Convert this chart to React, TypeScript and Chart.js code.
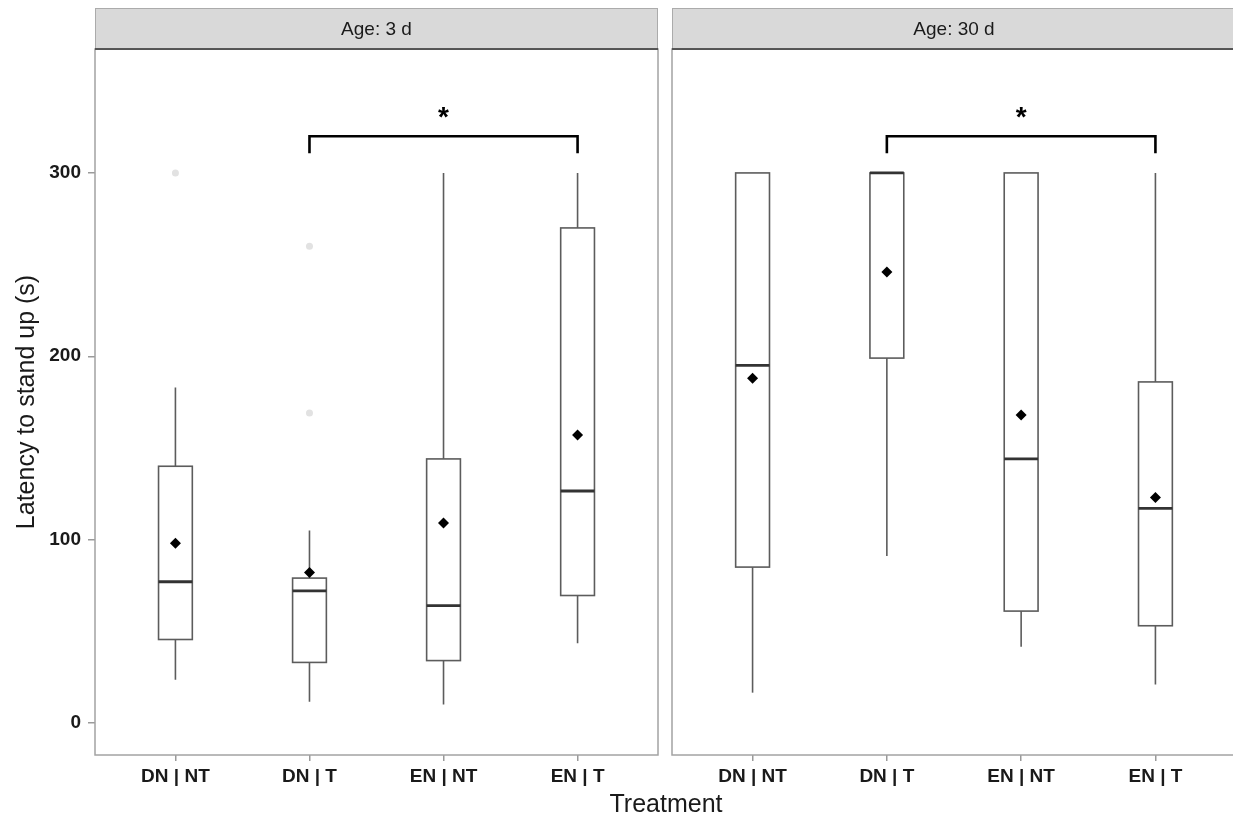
import React, { useEffect, useRef } from 'react';
import Chart from 'chart.js/auto';

const FONT = '"Liberation Sans", Arial, Helvetica, sans-serif';

const treatments = ['DN | NT', 'DN | T', 'EN | NT', 'EN | T'];
const ageLabels = ['Age: 3 d', 'Age: 30 d'];
const yTicks = [0, 100, 200, 300];

// Age: 3 d
const lower3 = [23.5, 11.5, 10, 43.5];
const q1_3 = [45.5, 33, 34, 69.5];
const median3 = [77, 72, 64, 126.5];
const q3_3 = [140, 79, 144, 270];
const upper3 = [183, 105, 300, 300];
const mean3 = [98, 82, 109, 157];
const outliers3 = [[300], [260, 169], [], []];

// Age: 30 d
const lower30 = [16.5, 91, 41.5, 21];
const q1_30 = [85, 199, 61, 53];
const median30 = [195, 300, 144, 117];
const q3_30 = [300, 300, 300, 186];
const upper30 = [300, 300, 300, 300];
const mean30 = [188, 246, 168, 123];
const outliers30 = [[], [], [], []];

// significance brackets (one per panel)
const sigFrom = [1, 1];
const sigTo = [3, 3];
const sigY = [320, 320];
const sigLabel = ['*', '*'];

type PanelData = {
    title: string;
    lower: number[];
    q1: number[];
    median: number[];
    q3: number[];
    upper: number[];
    mean: number[];
    outliers: number[][];
    sig: number;
};

const panels: PanelData[] = [
    { title: ageLabels[0], lower: lower3, q1: q1_3, median: median3, q3: q3_3, upper: upper3, mean: mean3, outliers: outliers3, sig: 0 },
    { title: ageLabels[1], lower: lower30, q1: q1_30, median: median30, q3: q3_30, upper: upper30, mean: mean30, outliers: outliers30, sig: 1 },
];

const makePanelPlugin = (p: PanelData) => ({
    id: 'facetPanel',
    beforeDraw(chart: any) {
        const { ctx, chartArea: a } = chart;
        ctx.save();
        // strip
        ctx.fillStyle = '#d9d9d9';
        ctx.fillRect(a.left, 8, a.right - a.left, a.top - 8);
        ctx.strokeStyle = '#ababab';
        ctx.lineWidth = 1;
        ctx.strokeRect(a.left + 0.5, 8.5, a.right - a.left - 1, a.top - 8);
        ctx.fillStyle = '#1a1a1a';
        ctx.font = `19px ${FONT}`;
        ctx.textAlign = 'center';
        ctx.textBaseline = 'middle';
        ctx.fillText(p.title, (a.left + a.right) / 2, (8 + a.top) / 2 + 1);
        ctx.restore();
    },
    beforeDatasetsDraw(chart: any) {
        const { ctx } = chart;
        const x = chart.scales.x;
        const y = chart.scales.y;
        const half = x.getPixelForValue(0.126) - x.getPixelForValue(0);
        ctx.save();
        p.median.forEach((_, i) => {
            const cx = x.getPixelForValue(i);
            ctx.strokeStyle = '#5c5c5c';
            ctx.lineWidth = 1.6;
            ctx.beginPath();
            ctx.moveTo(cx, y.getPixelForValue(p.lower[i]));
            ctx.lineTo(cx, y.getPixelForValue(p.q1[i]));
            ctx.moveTo(cx, y.getPixelForValue(p.q3[i]));
            ctx.lineTo(cx, y.getPixelForValue(p.upper[i]));
            ctx.stroke();
            const top = y.getPixelForValue(p.q3[i]);
            const bottom = y.getPixelForValue(p.q1[i]);
            ctx.fillStyle = '#ffffff';
            ctx.fillRect(cx - half, top, half * 2, bottom - top);
            ctx.strokeRect(cx - half, top, half * 2, bottom - top);
            ctx.strokeStyle = '#333333';
            ctx.lineWidth = 2.8;
            ctx.beginPath();
            const my = y.getPixelForValue(p.median[i]);
            ctx.moveTo(cx - half, my);
            ctx.lineTo(cx + half, my);
            ctx.stroke();
        });
        ctx.restore();
    },
    afterDatasetsDraw(chart: any) {
        const { ctx, chartArea: a } = chart;
        const x = chart.scales.x;
        const y = chart.scales.y;
        ctx.save();
        // significance bracket
        const x1 = x.getPixelForValue(sigFrom[p.sig]);
        const x2 = x.getPixelForValue(sigTo[p.sig]);
        const by = y.getPixelForValue(sigY[p.sig]);
        ctx.strokeStyle = '#000000';
        ctx.lineWidth = 2.6;
        ctx.lineJoin = 'miter';
        ctx.beginPath();
        ctx.moveTo(x1, by + 17);
        ctx.lineTo(x1, by);
        ctx.lineTo(x2, by);
        ctx.lineTo(x2, by + 17);
        ctx.stroke();
        ctx.fillStyle = '#000000';
        ctx.font = `bold 28px ${FONT}`;
        ctx.textAlign = 'center';
        ctx.textBaseline = 'alphabetic';
        ctx.fillText(sigLabel[p.sig], (x1 + x2) / 2, by - 10);
        // panel border
        ctx.strokeStyle = '#a3a3a3';
        ctx.lineWidth = 1.5;
        ctx.strokeRect(a.left, a.top, a.right - a.left, a.bottom - a.top);
        ctx.strokeStyle = '#3a3a3a';
        ctx.lineWidth = 1.6;
        ctx.beginPath();
        ctx.moveTo(a.left, a.top);
        ctx.lineTo(a.right, a.top);
        ctx.stroke();
        ctx.restore();
    },
});

type PanelProps = {
    index: number;
    left: number;
    width: number;
    padLeft: number;
    padRight: number;
    showY: boolean;
};

const Panel: React.FC<PanelProps> = ({ index, left, width, padLeft, padRight, showY }) => {
    const canvasRef = useRef<HTMLCanvasElement>(null);
    const chartRef = useRef<Chart>();

    useEffect(() => {
        if (!canvasRef.current) return;
        const p = panels[index];
        const outlierPoints: { x: number; y: number }[] = [];
        p.outliers.forEach((vals, i) => vals.forEach(v => outlierPoints.push({ x: i, y: v })));

        chartRef.current = new Chart(canvasRef.current, {
            type: 'scatter',
            data: {
                datasets: [
                    {
                        label: 'outliers',
                        data: outlierPoints,
                        pointStyle: 'circle',
                        pointRadius: 3.5,
                        backgroundColor: '#e2e2e2',
                        borderWidth: 0,
                    },
                    {
                        label: 'mean',
                        data: p.mean.map((m, i) => ({ x: i, y: m })),
                        pointStyle: 'rectRot',
                        pointRadius: 5.5,
                        backgroundColor: '#000000',
                        borderWidth: 0,
                    },
                ],
            },
            options: {
                animation: false,
                responsive: false,
                layout: { padding: { top: 49, left: padLeft, right: padRight, bottom: 0 } },
                plugins: {
                    legend: { display: false },
                    tooltip: { enabled: false },
                },
                scales: {
                    x: {
                        type: 'linear',
                        min: -0.6,
                        max: 3.6,
                        afterBuildTicks: (s: any) => { s.ticks = treatments.map((_, i) => ({ value: i })); },
                        afterFit: (s: any) => { s.height = 66; },
                        ticks: {
                            autoSkip: false,
                            maxRotation: 0,
                            padding: 4,
                            color: '#1a1a1a',
                            font: { family: FONT, size: 19, weight: 'bold' },
                            callback: (v: any) => treatments[v] ?? '',
                        },
                        grid: { drawOnChartArea: false, tickLength: 6, color: '#9a9a9a', lineWidth: 1.5 },
                        border: { display: false },
                    },
                    y: {
                        display: showY,
                        min: -17.5,
                        max: 367.6,
                        afterBuildTicks: (s: any) => { s.ticks = yTicks.map(v => ({ value: v })); },
                        afterFit: (s: any) => { s.width = showY ? 95 : 0; },
                        ticks: {
                            padding: 7,
                            color: '#1a1a1a',
                            font: { family: FONT, size: 19, weight: 'bold' },
                        },
                        grid: { drawOnChartArea: false, tickLength: 7, color: '#9a9a9a', lineWidth: 1.5 },
                        border: { display: false },
                        title: {
                            display: true,
                            text: 'Latency to stand up (s)',
                            color: '#1a1a1a',
                            font: { family: FONT, size: 25 },
                            padding: { top: 12, bottom: 0 },
                        },
                    },
                },
            },
            plugins: [makePanelPlugin(p)],
        } as any);

        return () => {
            if (chartRef.current) {
                chartRef.current.destroy();
            }
        };
    }, [index, padLeft, padRight, showY]);

    return (
        <canvas
            ref={canvasRef}
            width={width}
            height={821}
            style={{ position: 'absolute', left, top: 0, width, height: 821 }}
        />
    );
};

const App: React.FC = () => {
    return (
        <div style={{ position: 'fixed', left: 0, top: 0, width: 1233, height: 821, overflow: 'hidden', background: '#ffffff' }}>
            <Panel index={0} left={0} width={665} padLeft={0} padRight={7} showY={true} />
            <Panel index={1} left={665} width={580} padLeft={7} padRight={9} showY={false} />
            <div
                style={{
                    position: 'absolute',
                    left: 566,
                    top: 791,
                    width: 200,
                    textAlign: 'center',
                    fontFamily: FONT,
                    fontSize: 25,
                    lineHeight: '25px',
                    color: '#1a1a1a',
                }}
            >
                Treatment
            </div>
        </div>
    );
};

export default App;
